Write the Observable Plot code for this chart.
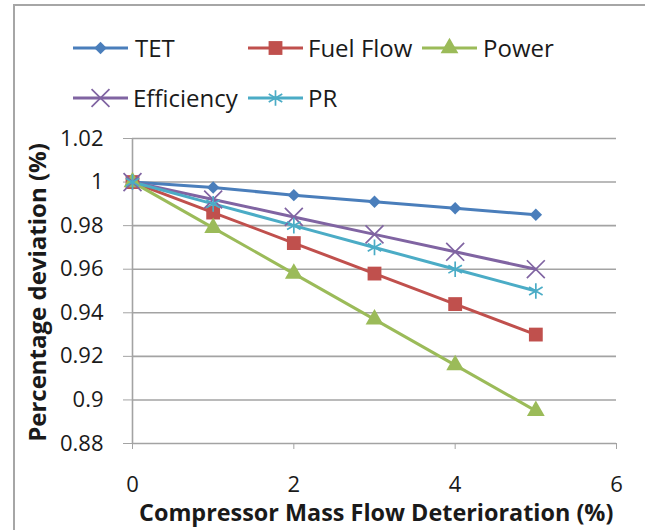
<!DOCTYPE html>
<html>
<head>
<meta charset="utf-8">
<script src="https://cdn.jsdelivr.net/npm/d3@7"></script>
<script src="https://cdn.jsdelivr.net/npm/@observablehq/plot@0.6"></script>
<style>
  html, body { margin: 0; padding: 0; background: #fff; }
  #wrap { position: relative; width: 645px; height: 530px; overflow: hidden; font-family: "Open Sans", sans-serif; }
  #frame { position: absolute; left: 13px; top: 4px; width: 640px; height: 600px; border-top: 2px solid #a6a6a6; border-left: 2px solid #a6a6a6; }
  #chart { position: absolute; left: 0; top: 0; }
  #chart svg text { fill: #1a1a1a; }
  #legend { position: absolute; left: 0; top: 0; }
  .axlabel { position: absolute; font-weight: bold; color: #1a1a1a; white-space: nowrap; }
  #xlab { font-size: 23.4px; }
  #ylab { font-size: 24px; }
</style>
</head>
<body>
<div id="wrap">
  <div id="frame"></div>
  <div id="chart"></div>
  <svg id="legend" width="645" height="130"></svg>
  <div class="axlabel" id="xlab">Compressor Mass Flow Deterioration (%)</div>
  <div class="axlabel" id="ylab">Percentage deviation (%)</div>
</div>
<script>
// ---- data ----
const xValues = [0, 1, 2, 3, 4, 5];
const tet = [1, 0.9975, 0.994, 0.991, 0.988, 0.985];
const fuelFlow = [1, 0.986, 0.972, 0.958, 0.944, 0.930];
const power = [1, 0.979, 0.958, 0.937, 0.916, 0.895];
const efficiency = [1, 0.992, 0.984, 0.976, 0.968, 0.960];
const pr = [1, 0.990, 0.980, 0.970, 0.960, 0.950];
const seriesNames = ["TET", "Fuel Flow", "Power", "Efficiency", "PR"];
const xTicks = [0, 2, 4, 6];
const yTicks = [0.88, 0.9, 0.92, 0.94, 0.96, 0.98, 1, 1.02];

const styles = {
  "TET":        {color: "#4a7ebb", symbol: "diamond2", r: 5.6, filled: true},
  "Fuel Flow":  {color: "#c0504d", symbol: "square",   r: 7.8, filled: true},
  "Power":      {color: "#9bbb59", symbol: "triangle", r: 6.6, filled: true},
  "Efficiency": {color: "#8064a2", symbol: "times",    r: 8.2, filled: false},
  "PR":         {color: "#4bacc6", symbol: "asterisk", r: 7.4, filled: false}
};
const seriesValues = [tet, fuelFlow, power, efficiency, pr];
const rows = [];
seriesNames.forEach((name, i) => {
  xValues.forEach((x, j) => rows.push({series: name, x, y: seriesValues[i][j]}));
});

const fmt = d => String(+d.toFixed(2));

const marks = [
  Plot.ruleY(yTicks, {stroke: "#a3a3a3", strokeWidth: 1.6}),
  Plot.ruleX([0], {stroke: "#a3a3a3", strokeWidth: 1.6})
];
seriesNames.forEach(name => {
  const s = styles[name];
  const data = rows.filter(d => d.series === name);
  marks.push(Plot.line(data, {x: "x", y: "y", stroke: s.color, strokeWidth: 3}));
});
seriesNames.forEach(name => {
  const s = styles[name];
  const data = rows.filter(d => d.series === name);
  if (s.filled) {
    marks.push(Plot.dot(data, {x: "x", y: "y", symbol: () => s.symbol, r: s.r, fill: s.color, stroke: "none"}));
  } else {
    marks.push(Plot.dot(data, {x: "x", y: "y", symbol: () => s.symbol, r: s.r, fill: "none", stroke: s.color, strokeWidth: 1.7}));
  }
});

const chart = Plot.plot({
  width: 645,
  height: 530,
  marginLeft: 132,
  marginRight: 29,
  marginTop: 138,
  marginBottom: 87,
  style: {fontFamily: "'Open Sans', sans-serif", fontSize: "22px", color: "#a3a3a3", background: "transparent", overflow: "visible"},
  x: {domain: [0, 6], ticks: xTicks, tickSize: 6, tickPadding: 27, label: null, tickFormat: d => String(d)},
  y: {domain: [0.88, 1.02], ticks: yTicks, tickSize: 9, tickPadding: 20, label: null, tickFormat: fmt},
  marks
});
document.getElementById("chart").appendChild(chart);

// ---- legend ----
const leg = d3.select("#legend");
const legendItems = [
  {name: "TET", lx: 73, tx: 135, cy: 48},
  {name: "Fuel Flow", lx: 248, tx: 308, cy: 48},
  {name: "Power", lx: 422, tx: 483, cy: 48},
  {name: "Efficiency", lx: 73, tx: 133, cy: 98},
  {name: "PR", lx: 248, tx: 308, cy: 98}
];
const symbolMap = {diamond2: d3.symbolDiamond2, square: d3.symbolSquare, triangle: d3.symbolTriangle, times: d3.symbolTimes, asterisk: d3.symbolAsterisk};
legendItems.forEach(it => {
  const s = styles[it.name];
  leg.append("line").attr("x1", it.lx).attr("x2", it.lx + 55).attr("y1", it.cy).attr("y2", it.cy)
    .attr("stroke", s.color).attr("stroke-width", 3);
  const p = leg.append("path").attr("d", d3.symbol(symbolMap[s.symbol], Math.PI * s.r * s.r)())
    .attr("transform", `translate(${it.lx + 27.5},${it.cy})`);
  if (s.filled) p.attr("fill", s.color);
  else p.attr("fill", "none").attr("stroke", s.color).attr("stroke-width", 1.7);
  leg.append("text").attr("x", it.tx).attr("y", it.cy).attr("dy", "0.36em")
    .attr("font-family", "'Open Sans', sans-serif").attr("font-size", 24).attr("fill", "#1a1a1a").text(it.name);
});

// ---- axis titles ----
const xlab = document.getElementById("xlab");
xlab.style.left = (376 - xlab.offsetWidth / 2) + "px";
xlab.style.top = (512 - xlab.offsetHeight / 2) + "px";
const ylab = document.getElementById("ylab");
ylab.style.left = (36 - ylab.offsetWidth / 2) + "px";
ylab.style.top = (292 - ylab.offsetHeight / 2) + "px";
ylab.style.transform = "rotate(-90deg)";
</script>
</body>
</html>
